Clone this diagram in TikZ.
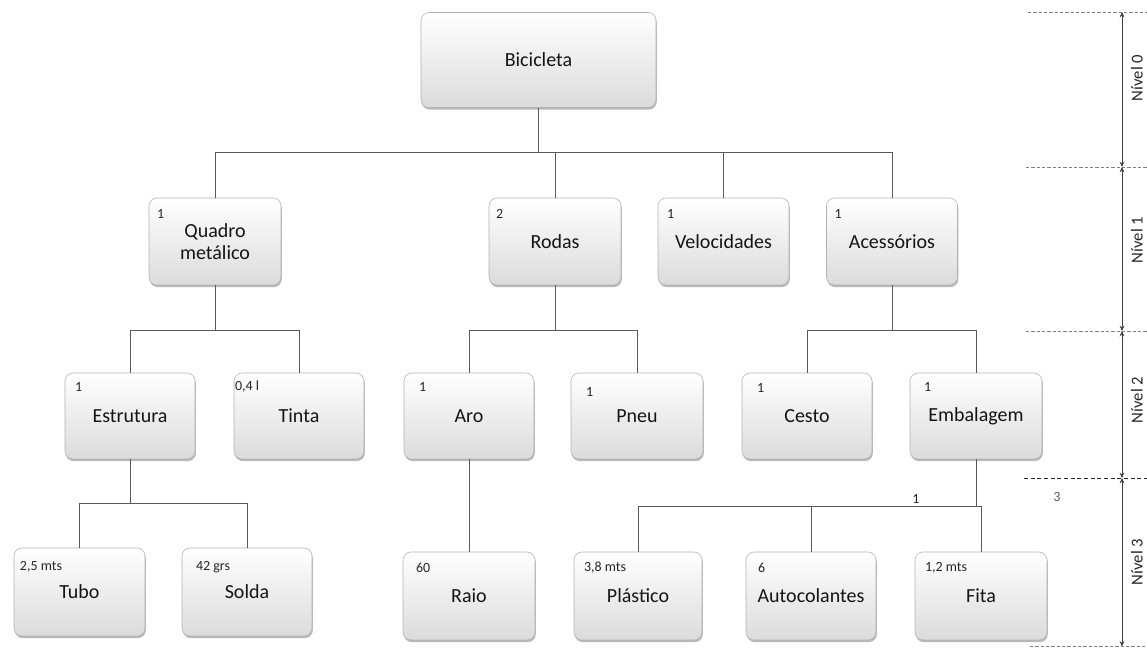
\documentclass[tikz,border=0pt]{standalone}
\usepackage{fontspec}
\setmainfont{Carlito}
\usetikzlibrary{shadows,arrows.meta}
\begin{document}
\begin{tikzpicture}[x=0.75pt,y=-0.75pt,
  bx/.style={draw=black!30, line width=0.4pt, rounded corners=6pt,
    top color=white, middle color=white, bottom color=black!14,
    drop shadow={shadow xshift=0.6pt,shadow yshift=-1.6pt,fill=black!55,opacity=0.5},
    inner sep=0pt, align=center, font=\fontsize{15}{16.5}\selectfont, text=black!92},
  qty/.style={font=\fontsize{10.5}{12}\selectfont, anchor=west, inner sep=0pt, text=black!85},
  conn/.style={draw=black!65, line width=0.7pt},
  lvl/.style={font=\fontsize{12.5}{14}\selectfont, rotate=90, text=black!85, inner sep=0pt},
  lvlarrow/.style={draw=black!75, line width=0.5pt, {Stealth[length=4pt,width=3.5pt]}-{Stealth[length=4pt,width=3.5pt]}},
  dsh/.style={draw=black!50, line width=0.5pt, dash pattern=on 2.5pt off 1.5pt},
  dshb/.style={draw=black!85, line width=0.6pt, dash pattern=on 3pt off 2pt}
]
\useasboundingbox (0,0) rectangle (1147,648);

% level 0
\node[bx, minimum width=235*0.75pt, minimum height=95*0.75pt] (bic) at (538.5,60) {Bicicleta};

% level 1
\node[bx, minimum width=132*0.75pt, minimum height=87*0.75pt] (quadro) at (215,241.5) {Quadro\\metálico};
\node[bx, minimum width=132*0.75pt, minimum height=87*0.75pt] (rodas) at (555,241.5) {Rodas};
\node[bx, minimum width=131*0.75pt, minimum height=87*0.75pt] (veloc) at (723.5,241.5) {Velocidades};
\node[bx, minimum width=131*0.75pt, minimum height=87*0.75pt] (acess) at (892,241.5) {Acessórios};

% level 2
\node[bx, minimum width=130*0.75pt, minimum height=86*0.75pt] (estr) at (130,416) {Estrutura};
\node[bx, minimum width=130*0.75pt, minimum height=86*0.75pt] (tinta) at (299,416) {Tinta};
\node[bx, minimum width=130*0.75pt, minimum height=86*0.75pt] (aro) at (469,416) {Aro};
\node[bx, minimum width=132*0.75pt, minimum height=86*0.75pt] (pneu) at (637,416) {Pneu};
\node[bx, minimum width=130*0.75pt, minimum height=86*0.75pt] (cesto) at (807,416) {Cesto};
\node[bx, minimum width=132*0.75pt, minimum height=86*0.75pt] (emb) at (976,416) {Embalagem};

% level 3
\node[bx, minimum width=131*0.75pt, minimum height=88*0.75pt] (tubo) at (79.5,592) {Tubo};
\node[bx, minimum width=130*0.75pt, minimum height=88*0.75pt] (solda) at (247,592) {Solda};
\node[bx, minimum width=132*0.75pt, minimum height=88*0.75pt] (raio) at (469,596) {Raio};
\node[bx, minimum width=128*0.75pt, minimum height=88*0.75pt] (plas) at (638,596) {Plástico};
\node[bx, minimum width=130*0.75pt, minimum height=88*0.75pt] (auto) at (811,596) {Autocolantes};
\node[bx, minimum width=132*0.75pt, minimum height=88*0.75pt] (fita) at (981,596) {Fita};

% quantities
\node[qty] (qquadro) at ([shift={(8,16)}]quadro.north west) {1};
\node[qty] (qrodas) at ([shift={(7,16)}]rodas.north west) {2};
\node[qty] (qveloc) at ([shift={(9,16)}]veloc.north west) {1};
\node[qty] (qacess) at ([shift={(8,16)}]acess.north west) {1};
\node[qty] (qestr) at ([shift={(10,14)}]estr.north west) {1};
\node[qty] (qtinta) at ([shift={(1,14)}]tinta.north west) {0,4 l};
\node[qty] (qaro) at ([shift={(15,14)}]aro.north west) {1};
\node[qty] (qpneu) at ([shift={(15,19)}]pneu.north west) {1};
\node[qty] (qcesto) at ([shift={(15,15)}]cesto.north west) {1};
\node[qty] (qemb) at ([shift={(14,14)}]emb.north west) {1};
\node[qty] (qtubo) at ([shift={(6,19)}]tubo.north west) {2,5 mts};
\node[qty] (qsolda) at ([shift={(14,19)}]solda.north west) {42 grs};
\node[qty] (qraio) at ([shift={(13,16)}]raio.north west) {60};
\node[qty] (qplas) at ([shift={(10,16)}]plas.north west) {3,8 mts};
\node[qty] (qauto) at ([shift={(12,16)}]auto.north west) {6};
\node[qty] (qfita) at ([shift={(10,16)}]fita.north west) {1,2 mts};

% connector levels
\coordinate (h0) at (0,152);
\coordinate (h1) at (0,330);
\coordinate (h2a) at (0,503);
\coordinate (h2b) at (0,506);

\draw[conn] (bic.south) -- (bic.south |- h0);
\draw[conn] (quadro.north) -- (quadro.north |- h0) -- (acess.north |- h0) -- (acess.north);
\draw[conn] (rodas.north) -- (rodas.north |- h0);
\draw[conn] (veloc.north) -- (veloc.north |- h0);

\draw[conn] (quadro.south) -- (quadro.south |- h1);
\draw[conn] (estr.north) -- (estr.north |- h1) -- (tinta.north |- h1) -- (tinta.north);
\draw[conn] (rodas.south) -- (rodas.south |- h1);
\draw[conn] (aro.north) -- (aro.north |- h1) -- (pneu.north |- h1) -- (pneu.north);
\draw[conn] (acess.south) -- (acess.south |- h1);
\draw[conn] (cesto.north) -- (cesto.north |- h1) -- (emb.north |- h1) -- (emb.north);

\draw[conn] (estr.south) -- (estr.south |- h2a);
\draw[conn] (tubo.north) -- (tubo.north |- h2a) -- (solda.north |- h2a) -- (solda.north);
\draw[conn] (aro.south) -- (raio.north);
\draw[conn] (emb.south) -- (emb.south |- h2b);
\draw[conn] (plas.north) -- (plas.north |- h2b) -- (fita.north |- h2b) -- (fita.north);
\draw[conn] (auto.north) -- (auto.north |- h2b);

\node[qty, anchor=center] (one) at (916,499) {1};
\node[qty, anchor=center, text=black!65] (three) at (1057,497) {3};

% level scale
\coordinate (L0) at (1122,12);
\coordinate (L1) at (1122,167);
\coordinate (L2) at (1122,331);
\coordinate (L3) at (1122,478);
\coordinate (L4) at (1122,646.5);

\draw[dsh] (1028,12) -- (1147,12);
\draw[dsh] (1026,167) -- (1147,167);
\draw[dsh] (1026,331) -- (1147,331);
\draw[dshb] (1024,478) -- (1147,478);
\draw[dsh] (1030,646.5) -- (1147,646.5);

\draw[lvlarrow] (L0) -- (L1);
\draw[lvlarrow] (L1) -- (L2);
\draw[lvlarrow] (L2) -- (L3);
\draw[lvlarrow] (L3) -- (L4);

\node[lvl] (n0) at (1137,78) {Nível 0};
\node[lvl] (n1) at (1137,240) {Nível 1};
\node[lvl] (n2) at (1137,400) {Nível 2};
\node[lvl] (n3) at (1137,562) {Nível 3};
\end{tikzpicture}
\end{document}
